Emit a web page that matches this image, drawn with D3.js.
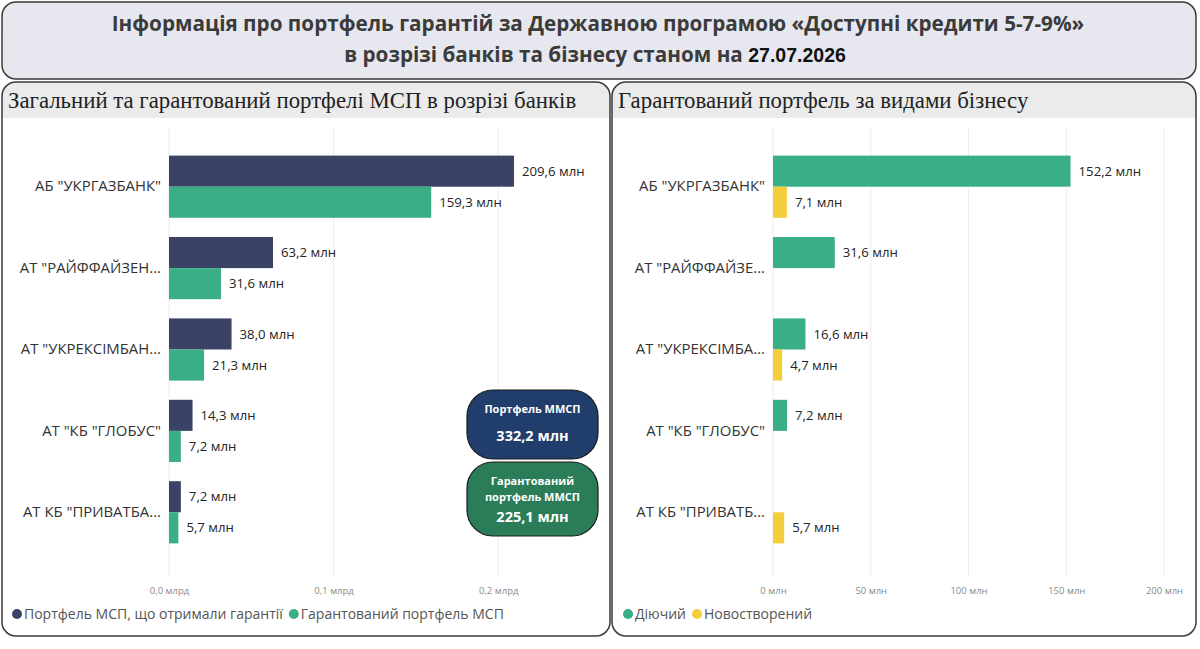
<!DOCTYPE html>
<html><head><meta charset="utf-8">
<script src="https://cdn.jsdelivr.net/npm/d3@7/dist/d3.min.js"></script>
<style>body{margin:0;background:#fff}svg{display:block}</style>
</head><body>
<script>
// ---- data ----
const banksLeft = ['АБ "УКРГАЗБАНК"','АТ "РАЙФФАЙЗЕН...','АТ "УКРЕКСІМБАН...','АТ "КБ "ГЛОБУС"','АТ КБ "ПРИВАТБА...'];
const banksRight = ['АБ "УКРГАЗБАНК"','АТ "РАЙФФАЙЗЕ...','АТ "УКРЕКСІМБА...','АТ "КБ "ГЛОБУС"','АТ КБ "ПРИВАТБ...'];
const portfolioMSP = [209.6, 63.2, 38.0, 14.3, 7.2];   // млн
const guaranteedMSP = [159.3, 31.6, 21.3, 7.2, 5.7];   // млн
const activeBiz = [152.2, 31.6, 16.6, 7.2, null];      // млн
const newBiz = [7.1, null, 4.7, null, 5.7];            // млн
const leftTicks = [0, 100, 200];
const rightTicks = [0, 50, 100, 150, 200];
const kpiPortfolio = "332,2 млн";
const kpiGuaranteed = "225,1 млн";
const reportDate = "27.07.2026";

const C = {navy:"#3a4366", green:"#3aae84", yellow:"#f3ce3a", kpiBlue:"#213d6b", kpiGreen:"#2a7d58"};
const fmt = v => d3.format(".1f")(v).replace(".", ",") + " млн";

const svg = d3.select("body").append("svg").attr("width",1200).attr("height",649);
const FONT = "'Open Sans', 'Noto Sans', sans-serif";

// ---- header ----
svg.append("rect").attr("x",2).attr("y",2).attr("width",1194).attr("height",77).attr("rx",14)
  .attr("fill","#e7e8ef").attr("stroke","#3a3a3a").attr("stroke-width",1.5);
svg.append("text").attr("x",598).attr("y",31).attr("text-anchor","middle")
  .attr("font-family",FONT).attr("font-weight",700).attr("font-size",20.7).attr("fill","#3b3b3b")
  .text("Інформація про портфель гарантій за Державною програмою «Доступні кредити 5-7-9%»");
const t2 = svg.append("text").attr("x",595).attr("y",62).attr("text-anchor","middle")
  .attr("font-family",FONT).attr("font-weight",700).attr("font-size",20.7).attr("fill","#3b3b3b");
t2.append("tspan").text("в розрізі банків та бізнесу станом на ");
t2.append("tspan").attr("fill","#111").attr("font-size",19.5).attr("font-family","'Liberation Sans', Arial, sans-serif").text(reportDate);

// ---- panels ----
function panel(x, w, title){
  const id = "clip"+x;
  svg.append("clipPath").attr("id",id).append("rect").attr("x",x).attr("y",82).attr("width",w).attr("height",554).attr("rx",14);
  const g = svg.append("g");
  g.append("rect").attr("x",x).attr("y",82).attr("width",w).attr("height",554).attr("rx",14).attr("fill","#fff");
  g.append("rect").attr("x",x).attr("y",82).attr("width",w).attr("height",36).attr("fill","#ebebeb").attr("clip-path",`url(#${id})`);
  g.append("rect").attr("x",x).attr("y",82).attr("width",w).attr("height",554).attr("rx",14)
    .attr("fill","none").attr("stroke","#3a3a3a").attr("stroke-width",1.5);
  g.append("text").attr("x",x+6).attr("y",108).attr("font-family","'Liberation Serif','DejaVu Serif',serif")
    .attr("font-size",22.8).attr("fill","#222").text(title);
}
panel(2, 608, "Загальний та гарантований портфелі МСП в розрізі банків");
panel(612, 584, "Гарантований портфель за видами бізнесу");

// ---- generic grouped bar chart ----
function chart(opt){
  const g = svg.append("g");
  const x = d3.scaleLinear().domain(opt.domain).range(opt.xRange);
  const y0 = d3.scaleBand().domain(opt.cats).range([146,553]).paddingInner(0.236).paddingOuter(0.118);
  const y1 = d3.scaleBand().domain(opt.series.map((s,i)=>i)).range([0,y0.bandwidth()]);
  // grid
  g.append("g").selectAll("line").data(opt.ticks).join("line")
    .attr("x1",d=>x(d)).attr("x2",d=>x(d)).attr("y1",128).attr("y2",576)
    .attr("stroke","#ececec").attr("stroke-width",1);
  // x axis
  const ax = g.append("g").attr("transform","translate(0,584)")
    .call(d3.axisBottom(x).tickValues(opt.ticks).tickSize(0).tickFormat(opt.tickFmt));
  ax.select(".domain").remove();
  ax.selectAll("text").attr("font-family",FONT).attr("font-size",9.5).attr("fill","#8a8a8a");
  // y axis
  const ay = g.append("g").attr("transform",`translate(${x(0)-8},0)`)
    .call(d3.axisLeft(y0).tickSize(0).tickPadding(0));
  ay.select(".domain").remove();
  ay.selectAll("text").attr("font-family",FONT).attr("font-size",14.9).attr("fill","#333");
  // bars
  opt.series.forEach((s,si)=>{
    const data = opt.cats.map((c,i)=>({c, v:s.values[i]})).filter(d=>d.v!=null);
    g.append("g").selectAll("rect").data(data).join("rect")
      .attr("x",x(0)).attr("y",d=>y0(d.c)+y1(si)).attr("width",d=>x(d.v)-x(0)).attr("height",y1.bandwidth())
      .attr("fill",s.color);
    g.append("g").selectAll("text").data(data).join("text")
      .attr("x",d=>x(d.v)+8).attr("y",d=>y0(d.c)+y1(si)+y1.bandwidth()/2).attr("dy","0.35em")
      .attr("font-family",FONT).attr("font-size",13.2).attr("fill","#252423").text(d=>fmt(d.v));
  });
  // legend
  let lx = opt.legendX;
  opt.series.forEach(s=>{
    g.append("circle").attr("cx",lx+5).attr("cy",614).attr("r",5).attr("fill",s.color);
    const t = g.append("text").attr("x",lx+12).attr("y",614).attr("dy","0.35em")
      .attr("font-family",FONT).attr("font-size",14).attr("fill","#555").text(s.name);
    lx += 12 + t.node().getComputedTextLength() + 6;
  });
}

chart({
  cats: banksLeft, domain:[0,250], xRange:[169, 169+250*1.646], ticks:leftTicks,
  tickFmt: d => d3.format(".1f")(d/1000).replace(".", ",") + " млрд",
  series:[{name:"Портфель МСП, що отримали гарантії", color:C.navy, values:portfolioMSP},
          {name:"Гарантований портфель МСП", color:C.green, values:guaranteedMSP}],
  legendX: 12
});
chart({
  cats: banksRight, domain:[0,200], xRange:[773,1164], ticks:rightTicks,
  tickFmt: d => d + " млн",
  series:[{name:"Діючий", color:C.green, values:activeBiz},
          {name:"Новостворений", color:C.yellow, values:newBiz}],
  legendX: 623
});

// ---- KPI cards ----
function kpi(y, h, fill, lines, valY, value){
  svg.append("rect").attr("x",467).attr("y",y).attr("width",131).attr("height",h).attr("rx",26)
    .attr("fill",fill).attr("stroke","#1a1a1a").attr("stroke-width",1.2);
  lines.forEach(l=>svg.append("text").attr("x",532.5).attr("y",l[1]).attr("text-anchor","middle")
    .attr("font-family",FONT).attr("font-weight",700).attr("font-size",11).attr("fill","#fff").text(l[0]));
  svg.append("text").attr("x",532.5).attr("y",valY).attr("text-anchor","middle")
    .attr("font-family",FONT).attr("font-weight",700).attr("font-size",14.5).attr("fill","#fff").text(value);
}
kpi(390, 69, C.kpiBlue, [["Портфель ММСП",413]], 441, kpiPortfolio);
kpi(462, 74, C.kpiGreen, [["Гарантований",485],["портфель ММСП",501]], 522, kpiGuaranteed);
</script>
</body></html>
